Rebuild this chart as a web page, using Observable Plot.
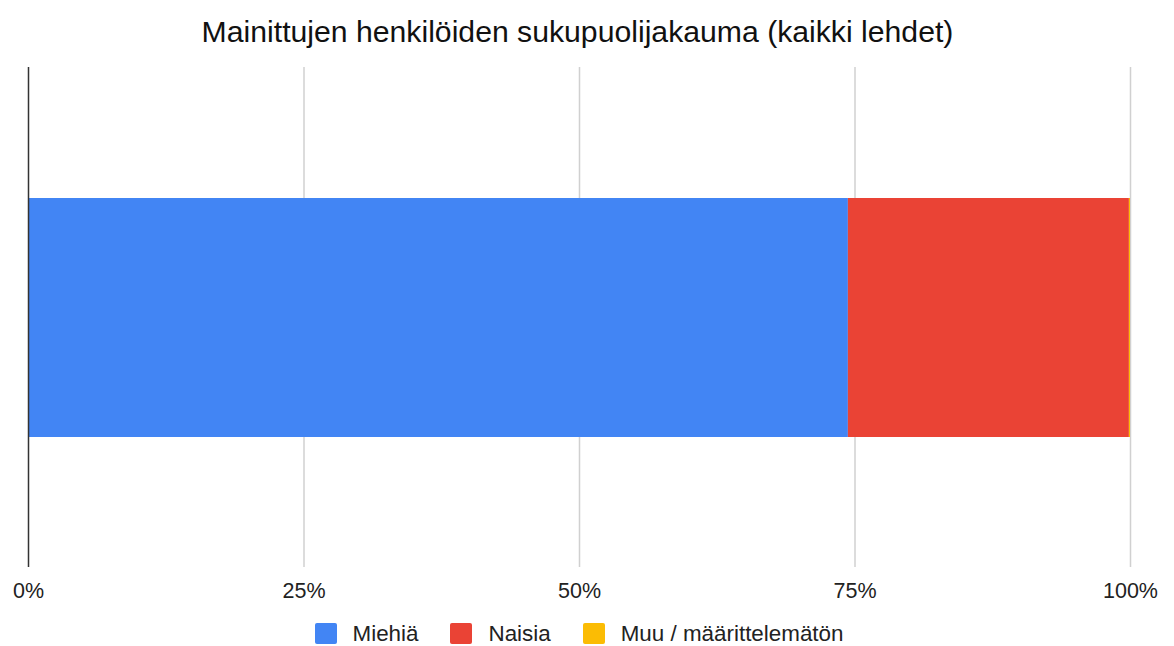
<!DOCTYPE html>
<html>
<head>
<meta charset="utf-8">
<script src="https://cdn.jsdelivr.net/npm/d3@7"></script>
<script src="https://cdn.jsdelivr.net/npm/@observablehq/plot@0.6"></script>
<style>
  body { margin: 0; background: #fff; font-family: "Liberation Sans", Arial, sans-serif; }
  #wrap { width: 1174px; height: 646px; position: relative; overflow: hidden; }
  #title { height: 64px; padding-right: 19px; display: flex; align-items: center; justify-content: center; font-size: 30.2px; color: #111; }
  #chart { position: absolute; top: 64px; left: 0; }
  #legend { position: absolute; top: 623px; left: 0; width: 1158px; height: 21px; display: flex; justify-content: center; align-items: center; font-size: 22.4px; color: #222; }
  .item { display: flex; align-items: center; margin: 0 16px; }
  .sw { width: 22px; height: 21px; border-radius: 2px; margin-right: 16px; }
</style>
</head>
<body>
<div id="wrap">
  <div id="title">Mainittujen henkilöiden sukupuolijakauma (kaikki lehdet)</div>
  <div id="chart"></div>
  <div id="legend"></div>
</div>
<script>
const row = "kaikki lehdet";
const categories = ["Miehiä", "Naisia", "Muu / määrittelemätön"];
const values = [74.4, 25.5, 0.1];
const colors = ["#4285F4", "#EA4335", "#FBBC04"];
const xTicks = [0, 25, 50, 75, 100];

const data = categories.map((c, i) => ({row, category: c, value: values[i]}));

const plot = Plot.plot({
  width: 1174,
  height: 546,
  marginTop: 3,
  marginBottom: 43,
  marginLeft: 28,
  marginRight: 44,
  style: {fontFamily: "Liberation Sans, Arial, sans-serif", fontSize: "21.5px", color: "#222", overflow: "visible"},
  x: {domain: [0, 100], ticks: xTicks, tickFormat: d => d + "%", label: null, tickSize: 0, tickPadding: 15},
  y: {domain: [row], range: [4, 504], padding: 0.3514, axis: null},
  color: {domain: categories, range: colors},
  marks: [
    Plot.ruleX(xTicks.filter(d => d > 0), {stroke: "#d0d0d0", strokeWidth: 1.5}),
    Plot.barX(data, {x: "value", y: "row", fill: "category"}),
    Plot.ruleX([0], {stroke: "#333", strokeWidth: 1.5})
  ]
});
document.getElementById("chart").appendChild(plot);

const legend = document.getElementById("legend");
categories.forEach((c, i) => {
  const it = document.createElement("div");
  it.className = "item";
  const sw = document.createElement("div");
  sw.className = "sw";
  sw.style.background = colors[i];
  const t = document.createElement("span");
  t.textContent = c;
  it.appendChild(sw); it.appendChild(t);
  legend.appendChild(it);
});
</script>
</body>
</html>
